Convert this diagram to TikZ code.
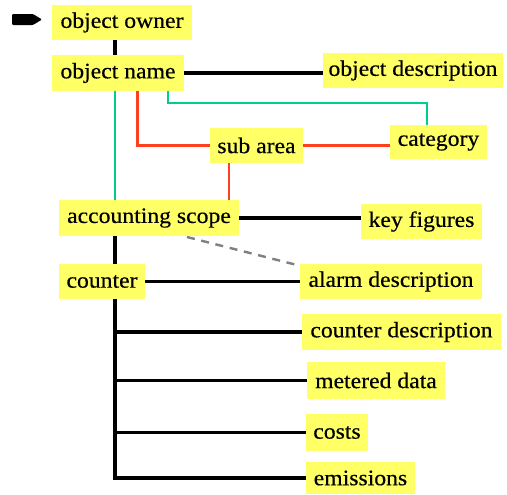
\documentclass[tikz,border=0pt]{standalone}
\usepackage{fontspec}
\setmainfont{Liberation Serif}[FakeStretch=1.07,FakeBold=0.4]
\definecolor{boxyellow}{RGB}{255,255,102}
\definecolor{linkgreen}{RGB}{0,206,140}
\definecolor{linkred}{RGB}{255,64,32}
\begin{document}
\begin{tikzpicture}[x=0.75pt,y=-0.75pt,
  ent/.style={fill=boxyellow,draw=none,inner sep=0pt,align=center,
    font=\fontsize{16.6pt}{18pt}\selectfont},
  blk/.style={draw=black,line width=2.3pt},
  grn/.style={draw=linkgreen,line width=1.8pt},
  rd/.style={draw=linkred,line width=1.8pt},
  dsh/.style={draw=gray,line width=1.8pt,dashed,dash pattern=on 6pt off 5pt}]
\useasboundingbox (0,0) rectangle (507,494);
% marker
\fill[rounded corners=0.8pt] (12,14) -- (33,14) -- (42,19.5) -- (33,25) -- (12,25) -- cycle;
% nodes
\node[ent,minimum width=105pt,minimum height=26.25pt] (owner) at (122,22.5) {object owner};
\node[ent,minimum width=99pt,minimum height=27pt] (name) at (118,73) {object name};
\node[ent,minimum width=135pt,minimum height=26.25pt] (objdesc) at (413,70.5) {object description};
\node[ent,minimum width=72.75pt,minimum height=25.5pt] (category) at (438.5,142) {category};
\node[ent,minimum width=69.75pt,minimum height=26.25pt] (subarea) at (256.5,145.5) {sub area};
\node[ent,minimum width=135pt,minimum height=27pt] (acc) at (149,218) {accounting scope};
\node[ent,minimum width=90.75pt,minimum height=26.25pt] (keyfig) at (421.5,221.5) {key figures};
\node[ent,minimum width=64.5pt,minimum height=26.25pt] (counter) at (102,281.5) {counter};
\node[ent,minimum width=136.5pt,minimum height=26.25pt] (alarm) at (391,281.5) {alarm description};
\node[ent,minimum width=149.25pt,minimum height=27pt] (cdesc) at (401.5,332) {counter description};
\node[ent,minimum width=103.5pt,minimum height=27.75pt] (metered) at (376,380.5) {metered data};
\node[ent,minimum width=46.5pt,minimum height=27.75pt] (costs) at (337,432.5) {costs};
\node[ent,minimum width=81.75pt,minimum height=24pt] (emis) at (360.5,478) {emissions};
% helper coordinates
\coordinate (tx) at (115,0);
\coordinate (gx) at (168,103);
\coordinate (gc) at (427,103);
\coordinate (rx) at (137.5,0);
\coordinate (rv) at (229,0);
\coordinate (dA) at (187,237);
\coordinate (dB) at (297,265);
% black connectors
\draw[blk] (owner.south -| tx) -- (name.north -| tx);
\draw[blk] (name.east) -- (objdesc.west |- name.east);
\draw[blk] (acc.east) -- (keyfig.west |- acc.east);
\draw[blk] (acc.south -| tx) -- (counter.north -| tx);
\draw[blk] (counter.east) -- (alarm.west |- counter.east);
\draw[blk] (counter.south -| tx) |- (emis.west);
\draw[blk] (tx |- cdesc.west) -- (cdesc.west);
\draw[blk] (tx |- metered.west) -- (metered.west);
\draw[blk] (tx |- costs.west) -- (costs.west);
% green connectors
\draw[grn] (name.south -| tx) -- (acc.north -| tx);
\draw[grn] (name.south -| gx) -- (gx) -- (gc) -- (gc |- category.north);
% red connectors
\draw[rd] (name.south -| rx) |- (subarea.west);
\draw[rd] (subarea.east) -- (category.west |- subarea.east);
\draw[rd] (subarea.south -| rv) -- (acc.north -| rv);
% dashed
\draw[dsh] (dA) -- (dB);
\end{tikzpicture}
\end{document}
